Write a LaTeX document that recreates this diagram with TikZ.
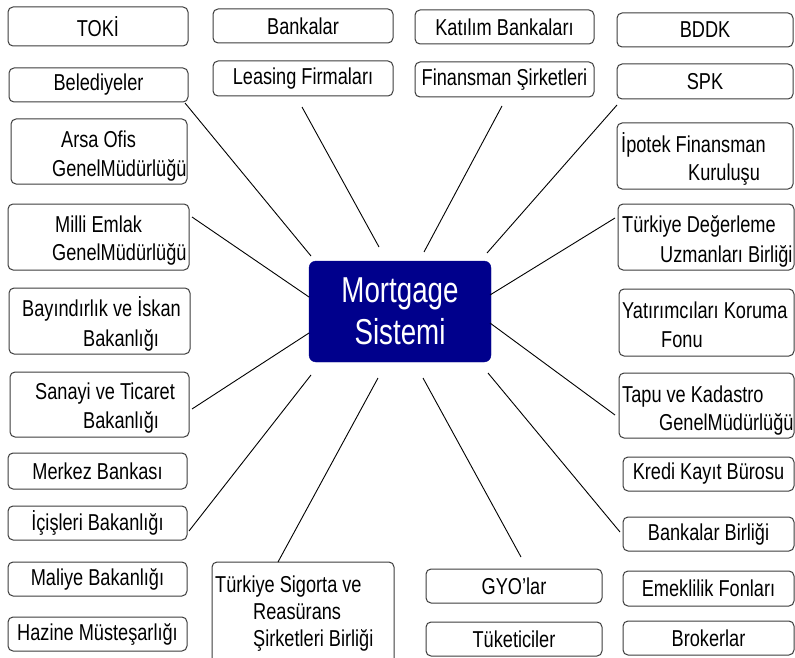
\documentclass[tikz,border=0pt]{standalone}
\usepackage{fontspec}
\setmainfont{Liberation Sans}[FakeStretch=0.79]
\newfontfamily\centerfont{Liberation Sans}[FakeStretch=0.77]
\definecolor{boxgray}{RGB}{60,60,60}
\definecolor{navy}{RGB}{0,0,140}
\begin{document}
\begin{tikzpicture}[x=1pt,y=-1pt,
  box/.style={draw=boxgray, line width=1pt, rounded corners=5pt, fill=white, inner sep=0pt,
    font=\fontsize{23}{28.5}\selectfont},
  txt/.style={anchor=base west, inner sep=0pt, font=\fontsize{23}{28.5}\selectfont},
  ctxt/.style={anchor=base, inner sep=0pt, text=white, font=\centerfont\fontsize{36}{42}\selectfont},
  conn/.style={draw=black, line width=0.9pt}]
\fill[white] (0,0) rectangle (795,658);
\useasboundingbox (0,0) rectangle (795,658);

% left column
\node[box, minimum width=180, minimum height=39] (toki) at (98,26.5) {TOKİ};
\node[box, minimum width=179, minimum height=34] (bel) at (98.5,85) {Belediyeler};
\node[box, minimum width=176, minimum height=65] (arsa) at (99,151.5) {};
\node[txt] (arsa1) at (61,148) {Arsa Ofis};
\node[txt] (arsa2) at (52,176) {GenelMüdürlüğü};
\node[box, minimum width=181, minimum height=66] (milli) at (98.5,237) {};
\node[txt] (milli1) at (55,232) {Milli Emlak};
\node[txt] (milli2) at (52,260) {GenelMüdürlüğü};
\node[box, minimum width=181, minimum height=66] (bay) at (99.5,321) {};
\node[txt] (bay1) at (22,316) {Bayındırlık ve İskan};
\node[txt] (bay2) at (83,346) {Bakanlığı};
\node[box, minimum width=179, minimum height=65] (san) at (99.5,404.5) {};
\node[txt] (san1) at (35,399) {Sanayi ve Ticaret};
\node[txt] (san2) at (83,428) {Bakanlığı};
\node[box, minimum width=179, minimum height=36] (merkez) at (97.5,471) {Merkez Bankası};
\node[box, minimum width=179, minimum height=34] (icis) at (97.5,523) {İçişleri Bakanlığı};
\node[box, minimum width=179, minimum height=34] (maliye) at (97.5,579) {Maliye Bakanlığı};
\node[box, minimum width=179, minimum height=34] (hazine) at (97.5,634) {Hazine Müsteşarlığı};

% top middle
\node[box, minimum width=180, minimum height=34] (bank) at (303,26) {Bankalar};
\node[box, minimum width=180, minimum height=35] (leas) at (303,78.5) {Leasing Firmaları};
\node[box, minimum width=179, minimum height=34] (kat) at (504.5,27) {Katılım Bankaları};
\node[box, minimum width=179, minimum height=35] (fin) at (504.5,79.5) {Finansman Şirketleri};

% right column
\node[box, minimum width=176, minimum height=34] (bddk) at (705,30) {BDDK};
\node[box, minimum width=176, minimum height=35] (spk) at (705,81.5) {SPK};
\node[box, minimum width=176, minimum height=66] (ipo) at (705,156) {};
\node[txt] (ipo1) at (621,153) {İpotek Finansman};
\node[txt] (ipo2) at (688,180) {Kuruluşu};
\node[box, minimum width=176, minimum height=66] (deg) at (706,237) {};
\node[txt] (deg1) at (622,232) {Türkiye Değerleme};
\node[txt] (deg2) at (660,262) {Uzmanları Birliği};
\node[box, minimum width=175, minimum height=67] (yat) at (706.5,322.5) {};
\node[txt] (yat1) at (622,318) {Yatırımcıları Koruma};
\node[txt] (yat2) at (661,347) {Fonu};
\node[box, minimum width=175, minimum height=65] (tapu) at (706.5,405.5) {};
\node[txt] (tapu1) at (622,402) {Tapu ve Kadastro};
\node[txt] (tapu2) at (659,430) {GenelMüdürlüğü};
\node[box, minimum width=171, minimum height=34] (kredi) at (708.5,474) {Kredi Kayıt Bürosu};
\node[box, minimum width=171, minimum height=34] (bbir) at (708.5,534) {Bankalar Birliği};
\node[box, minimum width=171, minimum height=35] (emek) at (708.5,588.5) {Emeklilik Fonları};
\node[box, minimum width=171, minimum height=34] (brok) at (708.5,638) {Brokerlar};

% bottom middle
\node[box, minimum width=176, minimum height=34] (gyo) at (514,586) {GYO’lar};
\node[box, minimum width=176, minimum height=34] (tuk) at (514,639) {Tüketiciler};
\node[box, minimum width=182, minimum height=106] (sig) at (303,615) {};
\node[txt] (sig1) at (215,592) {Türkiye Sigorta ve};
\node[txt] (sig2) at (253,619.5) {Reasürans};
\node[txt] (sig3) at (253,646) {Şirketleri Birliği};

% center
\node[draw=navy, fill=navy, rounded corners=7pt, minimum width=182, minimum height=101, inner sep=0pt] (ms) at (400,311.5) {};
\node[ctxt] (ms1) at (400,302.7) {Mortgage};
\node[ctxt] (ms2) at (400,344.3) {Sistemi};

% connector end points
\coordinate (bel-e) at (185,103);   \coordinate (ms-bel) at (311,256);
\coordinate (leas-e) at (302,107);  \coordinate (ms-leas) at (379,247);
\coordinate (fin-e) at (502,106);   \coordinate (ms-fin) at (424,252);
\coordinate (spk-e) at (617,105);   \coordinate (ms-spk) at (487,253);
\coordinate (milli-e) at (192,217); \coordinate (ms-milli) at (309,297);
\coordinate (san-e) at (192,409);   \coordinate (ms-san) at (309,333);
\coordinate (icis-e) at (189,531);  \coordinate (ms-icis) at (311,375);
\coordinate (sig-e) at (278,562);   \coordinate (ms-sig) at (378,378);
\coordinate (deg-e) at (615,218);   \coordinate (ms-deg) at (490,295);
\coordinate (tapu-e) at (615,415);  \coordinate (ms-tapu) at (490,323);
\coordinate (gyo-e) at (521,557);   \coordinate (ms-gyo) at (423,378);
\coordinate (bbir-e) at (620,532);  \coordinate (ms-bbir) at (488,373);

\draw[conn] (bel-e) -- (ms-bel);
\draw[conn] (leas-e) -- (ms-leas);
\draw[conn] (fin-e) -- (ms-fin);
\draw[conn] (spk-e) -- (ms-spk);
\draw[conn] (milli-e) -- (ms-milli);
\draw[conn] (san-e) -- (ms-san);
\draw[conn] (icis-e) -- (ms-icis);
\draw[conn] (sig-e) -- (ms-sig);
\draw[conn] (deg-e) -- (ms-deg);
\draw[conn] (tapu-e) -- (ms-tapu);
\draw[conn] (gyo-e) -- (ms-gyo);
\draw[conn] (bbir-e) -- (ms-bbir);
\end{tikzpicture}
\end{document}
